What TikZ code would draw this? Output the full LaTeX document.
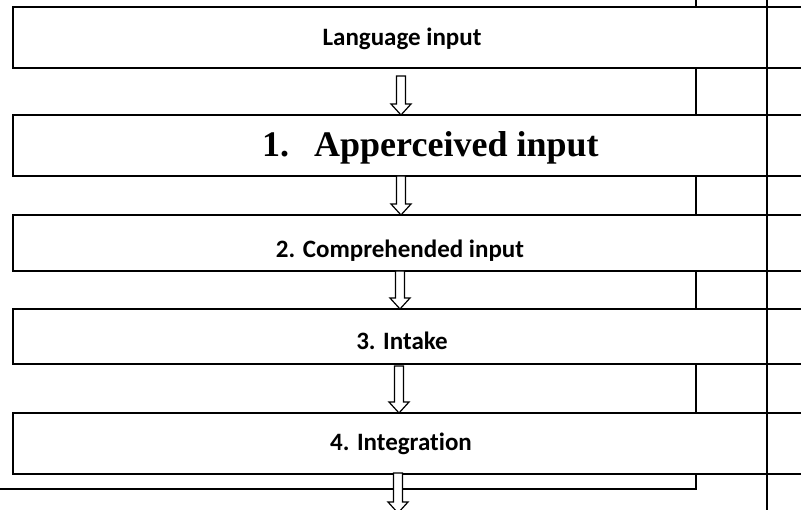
\documentclass[tikz,border=0pt]{standalone}
\usepackage{fontspec}
\setmainfont{Carlito}[Ligatures=NoCommon]
\newfontfamily\serifbold{Liberation Serif}
\usetikzlibrary{calc}

% hollow block arrow from the point #1 down to the tip #2
\newcommand\blockarrow[2]{%
  \filldraw[arrowline]
    ($(#1)+(-4.5,0)$) -- ($(#2)+(-4.5,-11)$) -- ($(#2)+(-10,-11)$) --
    (#2) -- ($(#2)+(10,-11)$) -- ($(#2)+(4.5,-11)$) --
    ($(#1)+(4.5,0)$) -- cycle;}

\tikzset{
  stagebox/.style={draw=black, line width=1.6pt, fill=white, rectangle,
    inner sep=0pt, minimum width=797pt},
  stagetext/.style={font=\fontsize{25}{29}\selectfont\bfseries, inner sep=0pt},
  bigtext/.style={font=\serifbold\fontsize{36}{40}\selectfont\bfseries, inner sep=0pt},
  ruleline/.style={line width=1.6pt, black},
  arrowline/.style={draw=black, fill=white, line width=1.2pt, line join=miter}
}

\begin{document}
\begin{tikzpicture}[x=1pt, y=-1pt]
  \useasboundingbox (0,0) rectangle (801,510);
  \clip (0,0) rectangle (801,510);

  % stage boxes
  \node[stagebox, minimum height=61pt] (b0) at (411.5,37.5) {};
  \node[stagebox, minimum height=61pt] (b1) at (411.5,145.5) {};
  \node[stagebox, minimum height=56pt] (b2) at (411.5,243) {};
  \node[stagebox, minimum height=55pt] (b3) at (411.5,336.5) {};
  \node[stagebox, minimum height=61pt] (b4) at (411.5,443.5) {};

  % stage labels
  \node[stagetext] (t0) at (402,39) {Language input};
  \node[bigtext, anchor=west] (t1) at (262,148) {1.\hspace{25pt}Apperceived input};
  \node[stagetext] (t2) at (400,251) {2. Comprehended input};
  \node[stagetext] (t3) at (402,341) {3. Intake};
  \node[stagetext] (t4) at (401,444) {4. Integration};

  % table rules
  \coordinate (ctop) at (696,0);
  \coordinate (ccorner) at (696,489);
  \coordinate (cleft) at (0,489);
  \coordinate (otop) at (767,0);
  \coordinate (obot) at (767,510);
  \draw[ruleline] (ctop) -- (b0.north -| ctop);
  \draw[ruleline] (b0.south -| ctop) -- (b1.north -| ctop);
  \draw[ruleline] (b1.south -| ctop) -- (b2.north -| ctop);
  \draw[ruleline] (b2.south -| ctop) -- (b3.north -| ctop);
  \draw[ruleline] (b3.south -| ctop) -- (b4.north -| ctop);
  \draw[ruleline] (b4.south -| ctop) -- (ccorner) -- (cleft);
  \draw[ruleline] (otop) -- (obot);

  % arrows between stages
  \coordinate (a0s) at (401,76);   \coordinate (a0e) at (401,115);
  \coordinate (a1s) at (401,176);  \coordinate (a1e) at (401,215);
  \coordinate (a2s) at (400,271);  \coordinate (a2e) at (400,309);
  \coordinate (a3s) at (399,366);  \coordinate (a3e) at (399,413);
  \coordinate (a4s) at (398,473);  \coordinate (a4e) at (398,513);
  \blockarrow{a0s}{a0e}
  \blockarrow{a1s}{a1e}
  \blockarrow{a2s}{a2e}
  \blockarrow{a3s}{a3e}
  \blockarrow{a4s}{a4e}
\end{tikzpicture}
\end{document}
